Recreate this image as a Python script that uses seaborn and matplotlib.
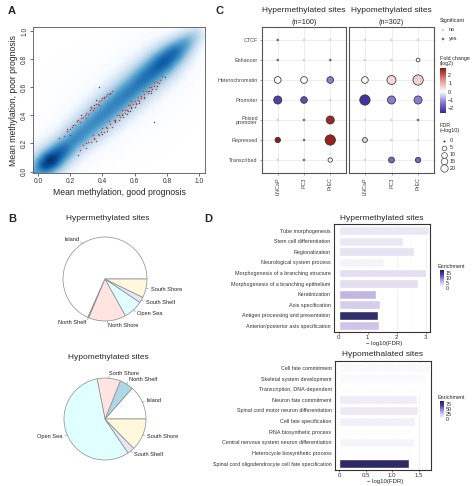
import numpy as np
import pandas as pd
import matplotlib
matplotlib.use("Agg")
import matplotlib.pyplot as plt
import seaborn as sns
from matplotlib.colors import LinearSegmentedColormap, Normalize
from matplotlib.cm import ScalarMappable

sns.set_style("white")
plt.rcParams['font.family'] = ['Liberation Sans', 'DejaVu Sans']
plt.rcParams['axes.unicode_minus'] = True

# ------------------------------------------------------------------ data A
ridge_t = [0.00, 0.04, 0.08, 0.13, 0.20, 0.30, 0.40, 0.50, 0.60, 0.70, 0.78, 0.85, 0.92, 1.00, 1.05]
ridge_amp = [0.64, 0.90, 1.00, 0.86, 0.70, 0.68, 0.70, 0.72, 0.74, 0.80, 0.86, 0.80, 0.60, 0.30, 0.0]
ridge_w = [0.058, 0.058, 0.058, 0.06, 0.063, 0.07, 0.074, 0.075, 0.075, 0.072, 0.068, 0.062, 0.055, 0.05, 0.05]

up_x = [0.13, 0.16, 0.18, 0.20, 0.21, 0.23, 0.24, 0.26, 0.27, 0.28, 0.29, 0.30, 0.31, 0.32, 0.33, 0.34,
        0.35, 0.35, 0.36, 0.37, 0.38, 0.39, 0.40, 0.41, 0.42, 0.43, 0.44, 0.46, 0.30, 0.25, 0.33, 0.38]
up_y = [0.24, 0.25, 0.29, 0.30, 0.32, 0.33, 0.36, 0.35, 0.38, 0.39, 0.40, 0.42, 0.41, 0.44, 0.45, 0.44,
        0.47, 0.45, 0.48, 0.48, 0.50, 0.51, 0.52, 0.52, 0.54, 0.55, 0.55, 0.57, 0.38, 0.37, 0.46, 0.47]
lo_x = [0.26, 0.28, 0.30, 0.31, 0.33, 0.34, 0.35, 0.36, 0.37, 0.38, 0.39, 0.40, 0.41, 0.42, 0.43, 0.44,
        0.45, 0.46, 0.47, 0.48, 0.48, 0.49, 0.50, 0.50, 0.51, 0.52, 0.52, 0.53, 0.54, 0.54, 0.55, 0.56,
        0.56, 0.57, 0.58, 0.58, 0.59, 0.60, 0.60, 0.61, 0.62, 0.62, 0.63, 0.64, 0.64, 0.65, 0.66, 0.66,
        0.67, 0.68, 0.68, 0.69, 0.70, 0.70, 0.71, 0.72, 0.72, 0.73, 0.74, 0.75, 0.76, 0.77]
lo_y = [0.15, 0.19, 0.17, 0.21, 0.21, 0.26, 0.24, 0.22, 0.27, 0.26, 0.28, 0.31, 0.28, 0.32, 0.31, 0.36,
        0.34, 0.32, 0.37, 0.36, 0.37, 0.40, 0.37, 0.40, 0.39, 0.44, 0.41, 0.39, 0.44, 0.42, 0.44, 0.47,
        0.43, 0.47, 0.46, 0.50, 0.48, 0.46, 0.50, 0.49, 0.51, 0.53, 0.50, 0.54, 0.52, 0.57, 0.55, 0.52,
        0.57, 0.56, 0.57, 0.60, 0.57, 0.60, 0.59, 0.64, 0.61, 0.59, 0.64, 0.63, 0.65, 0.68]
gray_x = [0.18, 0.22, 0.27, 0.33, 0.36, 0.41, 0.45, 0.30, 0.35, 0.40, 0.48, 0.52, 0.57, 0.61,
          0.66, 0.70, 0.74, 0.79, 0.43, 0.58, 0.63, 0.69, 0.72, 0.38, 0.25, 0.20, 0.55]
gray_y = [0.30, 0.33, 0.40, 0.46, 0.51, 0.53, 0.56, 0.20, 0.23, 0.27, 0.35, 0.40, 0.43, 0.48,
          0.53, 0.56, 0.61, 0.67, 0.29, 0.45, 0.49, 0.57, 0.35, 0.60, 0.12, 0.26, 0.41]

# ------------------------------------------------------------------ data B
pie_labels_hyper = ["Island", "North Shelf", "North Shore", "Open Sea", "South Shelf", "South Shore"]
pie_hyper = [68.3, 0.4, 14.4, 7.5, 2.2, 7.2]
pie_labels_hypo = ["Island", "North Shelf", "Sorth Shore", "Open Sea", "South Shelf", "South Shore"]
pie_hypo = [13.5, 5.4, 9.2, 56.4, 2.8, 12.7]
pie_colors = ["white", "lightblue", "mistyrose", "lightcyan", "lavender", "cornsilk"]

# ------------------------------------------------------------------ data C
regions = ["CTCF", "Enhancer", "Heterochromatin", "Promoter", "Poised\npromoter", "Repressed", "Transcribed"]
cells = ["LNCaP", "PC3", "PrEC"]
hyper_sig = [[1, 0, 0], [1, 0, 1], [1, 1, 1], [1, 1, 0], [0, 1, 1], [1, 1, 1], [0, 1, 1]]
hyper_fdr = [[0, 0, 0], [0, 0, 0], [8, 8, 8], [12, 8, 0], [0, 0, 12], [5, 0, 20], [0, 0, 3]]
hyper_fold = [[0, 0, 0], [0, 0, 0], [0.05, 0.05, -1.3], [-2.2, -2.0, 0], [0, 0, 2.6], [2.8, 0, 2.7], [0, 0, 0.1]]
hypo_sig = [[0, 0, 0], [0, 0, 1], [1, 1, 1], [1, 1, 1], [0, 0, 1], [1, 0, 0], [0, 1, 1]]
hypo_fdr = [[0, 0, 0], [0, 0, 2], [8, 15, 20], [20, 12, 12], [0, 0, 0], [4, 0, 0], [0, 6, 5]]
hypo_fold = [[0, 0, 0], [0, 0, 0], [0.1, 0.5, 0.6], [-2.4, -1.3, -1.3], [0, 0, 0], [-0.4, 0, 0], [0, -1.6, -1.6]]
fdr_legend = [0, 5, 10, 15, 20]
fold_ticks = [2, 1, 0, -1, -2]
fold_range = (-2.6, 2.85)

# ------------------------------------------------------------------ data D
hyper_terms = ["Tube morphogenesis", "Stem cell differentiation", "Regionalization",
               "Neurological system process", "Morphogenesis of a branching structure",
               "Morphogenesis of a branching epithelium", "Keratinization", "Axis specification",
               "Antigen processing and presentation", "Anterior/posterior axis specification"]
hyper_logfdr = [3.10, 2.22, 2.60, 1.58, 3.00, 2.72, 1.30, 1.42, 1.35, 1.38]
hyper_enrich = [2.5, 2.5, 3.0, 1.2, 3.5, 3.5, 6.5, 5.0, 17.0, 5.5]
hypo_terms = ["Cell fate commitment", "Skeletal system development", "Transcription, DNA-dependent",
              "Neuron fate commitment", "Spinal cord motor neuron differentiation", "Cell fate specification",
              "RNA biosynthetic process", "Central nervous system neuron differentiation",
              "Heterocycle biosynthetic process", "Spinal cord oligodendrocyte cell fate specification"]
hypo_logfdr = [1.69, 1.63, 1.58, 1.47, 1.48, 1.42, 1.42, 1.41, 1.40, 1.31]
hypo_enrich = [4, 3, 0.5, 10, 12, 8, 0.5, 6, 0.5, 87]

# ------------------------------------------------------------------ figure
W, H = 474, 486
fig = plt.figure(figsize=(W / 100, H / 100), dpi=100)


def ax_px(x0, y0, x1, y1):
    return fig.add_axes([x0 / W, 1 - y1 / H, (x1 - x0) / W, (y1 - y0) / H])


def ftext(x, y, s, **kw):
    fig.text(x / W, 1 - y / H, s, **kw)


for lab, (x, y) in {"A": (8, 11), "B": (8, 219), "C": (216, 11), "D": (204, 219)}.items():
    ftext(x, y, lab, fontsize=8, fontweight="bold", va="center", ha="left")

# ------------------------------------------------------------------ panel A
blues9 = ["#F7FBFF", "#DEEBF7", "#C6DBEF", "#9ECAE1", "#6BAED6", "#4292C6", "#2171B5", "#08519C", "#08306B"]
smooth_cmap = LinearSegmentedColormap.from_list("smooth", ["#FFFFFF"] + blues9)
axA = ax_px(33, 27, 205, 173)
xlimA = (-0.031, 1.037)
ylimA = (-0.010, 1.028)
gxs = np.linspace(*xlimA, 400)
gys = np.linspace(*ylimA, 400)
X, Y = np.meshgrid(gxs, gys)
T = (X + Y) / 2
Dp = (Y - X) / np.sqrt(2)
amp = np.interp(T, ridge_t, ridge_amp)
wid = np.interp(T, ridge_t, ridge_w)
V = amp * (0.75 * np.exp(-0.5 * (Dp / wid) ** 2) + 0.25 * np.exp(-0.5 * (Dp / (2.3 * wid)) ** 2))
axA.imshow(V, extent=(*xlimA, *ylimA), origin="lower", cmap=smooth_cmap, vmin=0, vmax=1,
           aspect="auto", interpolation="bilinear", zorder=0)
sns.scatterplot(x=gray_x, y=gray_y, color="#4a4a4a", s=1.0, linewidth=0, ax=axA, zorder=2)
sns.scatterplot(x=up_x + lo_x, y=up_y + lo_y, color="#e0352b", s=1.2, linewidth=0, ax=axA, zorder=3)
axA.set_xlim(xlimA)
axA.set_ylim(ylimA)
ticksA = [0, 0.2, 0.4, 0.6, 0.8, 1.0]
axA.set_xticks(ticksA)
axA.set_xticklabels([f"{t:.1f}" for t in ticksA])
axA.set_yticks(ticksA)
axA.set_yticklabels([f"{t:.1f}" for t in ticksA], rotation=90, va="center")
axA.tick_params(labelsize=4.8, length=2, width=0.5, pad=1.5, colors="#333333", direction="out",
                bottom=True, left=True)
for sp in axA.spines.values():
    sp.set_color("#555555")
    sp.set_linewidth(0.6)
axA.set_xlabel("Mean methylation, good prognosis", fontsize=6.2, labelpad=2)
axA.set_ylabel("Mean methylation, poor prognosis", fontsize=6.2, labelpad=2)

# ------------------------------------------------------------------ panel B


def draw_pie(cx, cy, r, vals, labels, title, ty):
    hw, hh = 95, 52
    ax = ax_px(cx - hw, cy - hh, cx + hw, cy + hh)
    wedges, _ = ax.pie(vals, colors=pie_colors, startangle=0, counterclock=True, radius=1,
                       wedgeprops=dict(edgecolor="#8a8a8a", linewidth=0.5))
    for wdg, lab in zip(wedges, labels):
        ang = np.deg2rad((wdg.theta1 + wdg.theta2) / 2)
        c, s = np.cos(ang), np.sin(ang)
        ax.plot([c, 1.06 * c], [s, 1.06 * s], color="#8a8a8a", lw=0.4)
        ax.text(1.12 * c, 1.12 * s, lab, fontsize=4.1, ha="left" if c > 0 else "right",
                va="center", color="#222222")
    ax.set_xlim(-hw / r, hw / r)
    ax.set_ylim(-hh / r, hh / r)
    ax.set_aspect("auto")
    ax.axis("off")
    ftext(cx + 3, ty, title, fontsize=6.0, ha="center", va="center")


draw_pie(105, 279, 42, pie_hyper, pie_labels_hyper, "Hypermethylated sites", 219)
draw_pie(105, 419, 41, pie_hypo, pie_labels_hypo, "Hypomethylated sites", 357)

# ------------------------------------------------------------------ panel C
z = -fold_range[0] / (fold_range[1] - fold_range[0])
fold_cmap = LinearSegmentedColormap.from_list(
    "fold", [(0.0, "#3a2596"), (z * 0.5, "#8c7bd6"), (z, "#ffffff"),
             (z + (1 - z) * 0.5, "#e08f87"), (1.0, "#8e1410")])
fold_norm = Normalize(*fold_range)

facets = [("Hypermethylated sites", "(n=100)", hyper_sig, hyper_fdr, hyper_fold, (262, 346)),
          ("Hypomethylated sites", "(n=302)", hypo_sig, hypo_fdr, hypo_fold, (349, 434))]
for k, (t1, t2, sig, fdr, fold, (x0, x1)) in enumerate(facets):
    ax = ax_px(x0, 27, x1, 173)
    rows = []
    for i, reg in enumerate(regions):
        for j, cel in enumerate(cells):
            rows.append(dict(xi=j, yi=i, sig=sig[i][j], fdr=fdr[i][j], fold=fold[i][j]))
    df = pd.DataFrame(rows)
    ax.set_axisbelow(True)
    for j in range(len(cells)):
        ax.axvline(j, color="#e6e6e6", lw=0.5, zorder=0)
    for i in range(len(regions)):
        ax.axhline(i, color="#e6e6e6", lw=0.5, zorder=0)
    sns.scatterplot(data=df, x="xi", y="yi", hue="sig", palette={0: "#d4d4d4", 1: "#6e6e6e"},
                    s=3.5, linewidth=0, legend=False, ax=ax, zorder=2)
    big = df[df["fdr"] > 0]
    sns.scatterplot(data=big, x="xi", y="yi", hue="fold", palette=fold_cmap, hue_norm=fold_norm,
                    size="fdr", sizes=(2, 55), size_norm=(0, 20), edgecolor="#333333",
                    linewidth=0.55, legend=False, ax=ax, zorder=3)
    ax.set_xlim(-0.6, 2.6)
    ax.set_ylim(6.65, -0.65)
    ax.set_xticks(range(len(cells)))
    ax.set_xticklabels(cells, rotation=90)
    ax.set_yticks(range(len(regions)))
    if k == 0:
        ax.set_yticklabels(regions, linespacing=0.9)
    else:
        ax.set_yticklabels([])
    ax.tick_params(labelsize=3.9, length=1.5, width=0.4, pad=1.5, colors="#555555",
                   bottom=True, left=(k == 0))
    for lbl in ax.get_xticklabels() + ax.get_yticklabels():
        lbl.set_color("#444444")
    ax.set_xlabel("")
    ax.set_ylabel("")
    for sp in ax.spines.values():
        sp.set_color("#555555")
        sp.set_linewidth(0.8)
    ftext((x0 + x1) / 2, 11, t1, fontsize=6.0, ha="center", va="center")
    ftext((x0 + x1) / 2, 22, t2, fontsize=5.2, ha="center", va="center")

# legend for C
leg = ax_px(436, 15, 474, 178)
leg.set_xlim(436, 474)
leg.set_ylim(178, 15)
leg.axis("off")
leg.text(440, 21, "Significant", fontsize=3.9, va="center", ha="left")
leg.scatter([443, 443], [30, 39], s=3.5, c=["#d4d4d4", "#6e6e6e"], linewidths=0)
leg.text(449, 30, "no", fontsize=3.9, va="center")
leg.text(449, 39, "yes", fontsize=3.9, va="center")
leg.text(440, 61, "Fold change\n(log2)", fontsize=3.9, va="center", ha="left", linespacing=0.95)
leg.text(440, 128, "FDR\n(\u2212log10)", fontsize=3.9, va="center", ha="left", linespacing=0.95)
for n, v in enumerate(fdr_legend):
    yy = 141 + n * 6.8
    if v == 0:
        leg.scatter([444], [yy], s=2, c="#333333", linewidths=0)
    else:
        leg.scatter([444], [yy], s=6 + v * 1.1, facecolors="white", edgecolors="#444444", linewidths=0.5)
    leg.text(450, yy, str(v), fontsize=3.9, va="center")

caxC = ax_px(440, 68, 446, 113)
cb = fig.colorbar(ScalarMappable(norm=fold_norm, cmap=fold_cmap), cax=caxC)
cb.set_ticks(fold_ticks)
cb.set_ticklabels([str(v).replace("-", "\u2212") for v in fold_ticks])
cb.outline.set_visible(False)
caxC.tick_params(labelsize=3.9, length=0, pad=1.5)

# ------------------------------------------------------------------ panel D
enr_cmap = LinearSegmentedColormap.from_list("enr", ["#ffffff", "#d9d0f3", "#9b87dd", "#4b3fa6", "#1c1c66"])


def draw_bars(box, terms, vals, enrich, vmax, xlim, xticks, xticklabels, title, ty, cbox, cticks, xlab_y):
    x0, y0, x1, y1 = box
    ax = ax_px(x0, y0, x1, y1)
    norm = Normalize(0, vmax)
    cols = [enr_cmap(norm(e)) for e in enrich]
    df = pd.DataFrame(dict(term=terms, val=vals))
    ax.set_axisbelow(True)
    sns.barplot(data=df, x="val", y="term", hue="term", palette=cols, legend=False, width=0.85,
                orient="h", ax=ax, zorder=2)
    ax.set_xlim(*xlim)
    ax.set_ylim(9.6, -0.65)
    ax.set_xticks(xticks)
    ax.set_xticklabels(xticklabels)
    minor = [(a + b) / 2 for a, b in zip(xticks[:-1], xticks[1:])]
    for xv in xticks:
        ax.axvline(xv, color="#ebebeb", lw=0.5, zorder=0)
    for xv in minor:
        ax.axvline(xv, color="#f4f4f4", lw=0.4, zorder=0)
    ax.tick_params(axis="y", labelsize=3.9, length=0, pad=2.5)
    ax.tick_params(axis="x", labelsize=4.4, length=1.5, width=0.4, pad=1, bottom=True)
    for lbl in ax.get_xticklabels() + ax.get_yticklabels():
        lbl.set_color("#333333")
    ax.set_xlabel("")
    ax.set_ylabel("")
    for sp in ax.spines.values():
        sp.set_color("#333333")
        sp.set_linewidth(0.8)
    ftext((x0 + x1) / 2, ty, title, fontsize=6.0, ha="center", va="center")
    ftext((x0 + x1) / 2 + 2, xlab_y, "\u2212 log10(FDR)", fontsize=4.3, ha="center", va="center")
    cax = ax_px(*cbox)
    cbar = fig.colorbar(ScalarMappable(norm=norm, cmap=enr_cmap), cax=cax)
    cbar.set_ticks(cticks)
    cbar.outline.set_visible(False)
    cax.tick_params(labelsize=3.9, length=0, pad=1.2)
    ftext(cbox[0] - 2, cbox[1] - 4, "Enrichment", fontsize=3.9, ha="left", va="center")


draw_bars((334, 224, 430, 332), hyper_terms, hyper_logfdr, hyper_enrich, 18, (-0.16, 3.15),
          [0, 1, 2, 3], ["0", "1", "2", "3"], "Hypermethylated sites", 219,
          (440, 270, 444, 288), [0, 5, 10, 15], 343)
draw_bars((335, 361, 431, 470), hypo_terms, hypo_logfdr, hypo_enrich, 90, (-0.08, 1.73),
          [0, 0.5, 1.0, 1.5], ["0", "0.5", "1.0", "1.5"], "Hypomethalated sites", 355,
          (440, 401, 444, 419), [0, 25, 50, 75], 481)

fig.savefig("out.png", dpi=100)
